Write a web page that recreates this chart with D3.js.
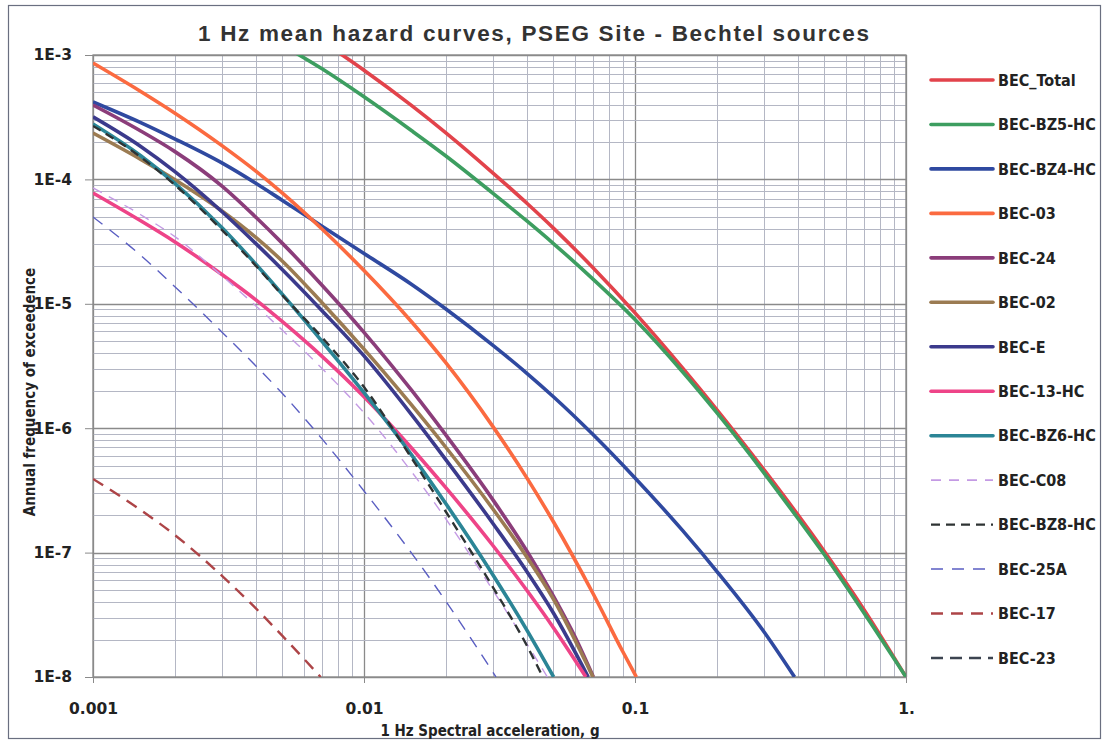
<!DOCTYPE html>
<html><head><meta charset="utf-8">
<script src="https://cdn.jsdelivr.net/npm/d3@7"></script>
<style>body{margin:0;background:#fff}svg{display:block}</style>
</head><body>
<svg id="c" width="1107" height="742"></svg>
<script>
// ---- data (acceleration g, annual frequency of exceedance) ----
const BEC_Total  = [[0.007,1.29e-3],[0.01,7.55e-4],[0.015,3.92e-4],[0.02,2.38e-4],[0.03,1.12e-4],[0.04,6.40e-5],[0.05,4.06e-5],[0.07,1.95e-5],[0.1,8.45e-6],[0.15,3.04e-6],[0.2,1.42e-6],[0.3,4.60e-7],[0.4,2.0e-7],[0.5,1.02e-7],[0.7,3.48e-8],[1.0,1.0e-8]];
const BEC_BZ5_HC = [[0.005,1.20e-3],[0.007,7.74e-4],[0.01,4.61e-4],[0.015,2.46e-4],[0.02,1.55e-4],[0.03,7.69e-5],[0.04,4.61e-5],[0.05,3.05e-5],[0.07,1.58e-5],[0.1,7.48e-6],[0.15,2.83e-6],[0.2,1.34e-6],[0.3,4.34e-7],[0.4,1.87e-7],[0.5,9.6e-8],[0.7,3.27e-8],[1.0,1.0e-8]];
const BEC_BZ4_HC = [[0.001,4.19e-4],[0.0015,2.86e-4],[0.002,2.12e-4],[0.003,1.35e-4],[0.004,9.27e-5],[0.005,6.78e-5],[0.007,4.21e-5],[0.01,2.54e-5],[0.015,1.43e-5],[0.02,9.12e-6],[0.03,4.61e-6],[0.04,2.75e-6],[0.05,1.79e-6],[0.07,8.89e-7],[0.1,3.98e-7],[0.15,1.50e-7],[0.2,7.11e-8],[0.3,2.29e-8],[0.388,1.0e-8]];
const BEC_03     = [[0.001,8.62e-4],[0.0015,5.09e-4],[0.002,3.42e-4],[0.003,1.86e-4],[0.004,1.16e-4],[0.005,7.76e-5],[0.007,3.99e-5],[0.01,1.85e-5],[0.015,7.14e-6],[0.02,3.38e-6],[0.03,1.02e-6],[0.04,3.95e-7],[0.05,1.77e-7],[0.07,4.69e-8],[0.09,1.61e-8],[0.1012,1.0e-8]];
const BEC_24     = [[0.001,3.96e-4],[0.0015,2.45e-4],[0.002,1.68e-4],[0.003,8.79e-5],[0.004,4.94e-5],[0.005,3.06e-5],[0.007,1.41e-5],[0.01,5.90e-6],[0.015,2.01e-6],[0.02,8.87e-7],[0.03,2.63e-7],[0.04,1.02e-7],[0.05,4.46e-8],[0.06,2.11e-8],[0.0702,1.0e-8]];
const BEC_02     = [[0.001,2.36e-4],[0.0015,1.45e-4],[0.002,9.98e-5],[0.003,5.55e-5],[0.004,3.40e-5],[0.005,2.20e-5],[0.007,1.02e-5],[0.01,4.32e-6],[0.015,1.53e-6],[0.02,7.06e-7],[0.03,2.22e-7],[0.04,9.12e-8],[0.05,4.23e-8],[0.07,1.0e-8]];
const BEC_E      = [[0.001,3.18e-4],[0.0015,1.84e-4],[0.002,1.16e-4],[0.003,5.47e-5],[0.004,3.03e-5],[0.005,1.88e-5],[0.007,8.81e-6],[0.01,3.81e-6],[0.015,1.28e-6],[0.02,5.62e-7],[0.03,1.70e-7],[0.04,6.97e-8],[0.05,3.27e-8],[0.0672,1.0e-8]];
const BEC_13_HC  = [[0.001,7.78e-5],[0.0015,4.65e-5],[0.002,3.16e-5],[0.003,1.71e-5],[0.004,1.07e-5],[0.005,7.18e-6],[0.007,3.78e-6],[0.01,1.79e-6],[0.015,6.90e-7],[0.02,3.34e-7],[0.03,1.13e-7],[0.04,4.93e-8],[0.05,2.49e-8],[0.0659,1.0e-8]];
const BEC_BZ6_HC = [[0.001,2.79e-4],[0.0015,1.55e-4],[0.002,9.35e-5],[0.003,4.07e-5],[0.004,2.07e-5],[0.005,1.19e-5],[0.007,4.99e-6],[0.01,1.93e-6],[0.015,6.08e-7],[0.02,2.49e-7],[0.03,6.55e-8],[0.04,2.36e-8],[0.0501,1.0e-8]];
const BEC_C08    = [[0.001,8.53e-5],[0.0015,5.20e-5],[0.002,3.48e-5],[0.003,1.67e-5],[0.004,9.57e-6],[0.005,6.12e-6],[0.007,3.02e-6],[0.01,1.33e-6],[0.015,4.45e-7],[0.02,1.88e-7],[0.03,4.93e-8],[0.04,1.83e-8],[0.0475,1.0e-8]];
const BEC_BZ8_HC = [[0.001,2.69e-4],[0.0015,1.51e-4],[0.002,9.06e-5],[0.003,3.89e-5],[0.004,2.01e-5],[0.005,1.17e-5],[0.007,5.37e-6],[0.01,2.14e-6],[0.015,5.73e-7],[0.02,2.15e-7],[0.03,5.21e-8],[0.04,1.77e-8],[0.0457,1.0e-8]];
const BEC_25A    = [[0.001,4.99e-5],[0.0015,2.45e-5],[0.002,1.38e-5],[0.003,5.89e-6],[0.004,3.15e-6],[0.005,1.90e-6],[0.007,8.20e-7],[0.01,3.13e-7],[0.015,9.86e-8],[0.02,4.10e-8],[0.025,1.99e-8],[0.0307,1.0e-8]];
const BEC_17     = [[0.001,3.91e-7],[0.0015,2.20e-7],[0.002,1.39e-7],[0.003,6.47e-8],[0.004,3.54e-8],[0.005,2.14e-8],[0.00692,1.0e-8]];
const BEC_23     = []; // no part of this curve is visible in the plotted range

const seriesNames = ["BEC_Total","BEC-BZ5-HC","BEC-BZ4-HC","BEC-03","BEC-24","BEC-02","BEC-E","BEC-13-HC","BEC-BZ6-HC","BEC-C08","BEC-BZ8-HC","BEC-25A","BEC-17","BEC-23"];
const seriesData = [BEC_Total,BEC_BZ5_HC,BEC_BZ4_HC,BEC_03,BEC_24,BEC_02,BEC_E,BEC_13_HC,BEC_BZ6_HC,BEC_C08,BEC_BZ8_HC,BEC_25A,BEC_17,BEC_23];
const xTickValues = [0.001,0.01,0.1,1];
const xTickLabels = ["0.001","0.01","0.1","1."];
const yTickValues = [1e-3,1e-4,1e-5,1e-6,1e-7,1e-8];
const yTickLabels = ["1E-3","1E-4","1E-5","1E-6","1E-7","1E-8"];
const titleText = "1 Hz mean hazard curves, PSEG Site - Bechtel sources";
const xTitle = "1 Hz Spectral acceleration, g";
const yTitle = "Annual frequency of exceedence";

// ---- styles ----
const colors = ["#e2434b","#3d9e60","#2f49a0","#fb6a40","#8b3d7a","#9b7b52","#3b3a8c","#ee4488","#2b8596","#c49ae4","#2e3333","#5a5ec2","#ad4447","#3c4450"];
const widths = [3.6,3.6,3.6,3.6,3.6,3.6,3.6,3.6,3.6,1.4,2.4,1.4,2.4,2.4];
const dashes = [null,null,null,null,null,null,null,null,null,"10,8","9,6","12,9","12,8","12,7"];

const svg = d3.select("#c");
const L=93,R=906,T=55,B=677;
const x = d3.scaleLog().domain([0.001,1]).range([L,R]);
const y = d3.scaleLog().domain([1e-8,1e-3]).range([B,T]);

// outer frame
svg.append("rect").attr("x",8.5).attr("y",5.5).attr("width",1092).attr("height",733)
  .attr("fill","#fff").attr("stroke","#6a6f80").attr("stroke-width",1.2);

// grid
const g = svg.append("g");
const xt = x.ticks(), yt = y.ticks();
const isMajor = v => Math.abs(Math.log10(v) - Math.round(Math.log10(v))) < 1e-6;
g.selectAll(".vx").data(xt).join("line")
  .attr("x1",d=>Math.round(x(d))+0.5).attr("x2",d=>Math.round(x(d))+0.5)
  .attr("y1",T).attr("y2",B)
  .attr("stroke",d=>isMajor(d)?"#8a8a8a":"#b4b7c4").attr("stroke-width",d=>isMajor(d)?1.3:1);
g.selectAll(".hy").data(yt).join("line")
  .attr("y1",d=>Math.round(y(d))+0.5).attr("y2",d=>Math.round(y(d))+0.5)
  .attr("x1",L).attr("x2",R)
  .attr("stroke",d=>isMajor(d)?"#8a8a8a":"#b4b7c4").attr("stroke-width",d=>isMajor(d)?1.3:1);
svg.append("rect").attr("x",L).attr("y",T).attr("width",R-L).attr("height",B-T)
  .attr("fill","none").attr("stroke","#8a8a8a").attr("stroke-width",1.3);

// axes
const ax = svg.append("g").attr("transform",`translate(0,${B})`)
  .call(d3.axisBottom(x).tickValues(xTickValues).tickFormat((d,i)=>xTickLabels[i]).tickSize(6).tickPadding(20));
const ay = svg.append("g").attr("transform",`translate(${L},0)`)
  .call(d3.axisLeft(y).tickValues(yTickValues).tickFormat((d,i)=>yTickLabels[i]).tickSize(8).tickPadding(13));
[ax,ay].forEach(a=>{
  a.select(".domain").remove();
  a.selectAll("line").attr("stroke","#8a8a8a");
  a.selectAll("text").attr("fill","#222").attr("font-family","'DejaVu Sans',sans-serif")
    .attr("font-weight","bold").attr("font-size",15.5);
});

// curves
svg.append("clipPath").attr("id","pc").append("rect")
  .attr("x",L).attr("y",T).attr("width",R-L).attr("height",B-T);
const line = d3.line().x(d=>x(d[0])).y(d=>y(d[1])).curve(d3.curveMonotoneX);
const cg = svg.append("g").attr("clip-path","url(#pc)");
seriesData.forEach((s,i)=>{
  if(!s.length) return;
  cg.append("path").attr("d",line(s)).attr("fill","none")
    .attr("stroke",colors[i]).attr("stroke-width",widths[i])
    .attr("stroke-dasharray",dashes[i]).attr("stroke-linejoin","round");
});

// legend
const lg = svg.append("g");
seriesNames.forEach((n,i)=>{
  const yy = 80 + i*44.46;
  lg.append("line").attr("x1",931).attr("x2",993).attr("y1",yy).attr("y2",yy)
    .attr("stroke",colors[i]).attr("stroke-width",dashes[i]?Math.max(widths[i],1.6):3.6)
    .attr("stroke-dasharray",dashes[i]).attr("stroke-linecap",dashes[i]?"butt":"round");
  lg.append("text").attr("x",998).attr("y",yy).attr("dy","0.36em").text(n)
    .attr("font-family","'DejaVu Sans Condensed','DejaVu Sans',sans-serif").attr("font-stretch","condensed")
    .attr("font-weight","bold").attr("font-size",16).attr("fill","#222");
});

// titles
svg.append("text").attr("x",198).attr("y",41).text(titleText)
  .attr("font-family","'Liberation Sans',Arial,sans-serif").attr("font-weight","bold")
  .attr("font-size",22.5).attr("fill","#333").attr("textLength",671).attr("lengthAdjust","spacing");
svg.append("text").attr("x",490).attr("y",736).attr("text-anchor","middle").text(xTitle)
  .attr("font-family","'DejaVu Sans Condensed','DejaVu Sans',sans-serif").attr("font-stretch","condensed")
  .attr("font-weight","bold").attr("font-size",15).attr("fill","#222");
svg.append("text").attr("transform","translate(35,392) rotate(-90)").attr("text-anchor","middle").text(yTitle)
  .attr("font-family","'DejaVu Sans Condensed','DejaVu Sans',sans-serif").attr("font-stretch","condensed")
  .attr("font-weight","bold").attr("font-size",15).attr("fill","#222");
</script>
</body></html>
